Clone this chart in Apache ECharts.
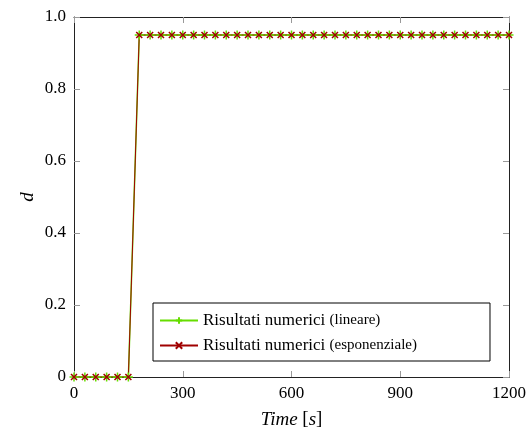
<!DOCTYPE html>
<html>
<head>
<meta charset="utf-8">
<script src="https://cdn.jsdelivr.net/npm/echarts@6/dist/echarts.min.js"></script>
<style>
  html, body { margin: 0; padding: 0; background: #fff; }
  #chart { width: 531px; height: 435px; }
</style>
</head>
<body>
<div id="chart"></div>
<script>
  // tempi (s)
  var timeSec = [0, 30, 60, 90, 120, 150, 180, 210, 240, 270, 300, 330, 360, 390, 420, 450,
    480, 510, 540, 570, 600, 630, 660, 690, 720, 750, 780, 810, 840, 870, 900, 930, 960,
    990, 1020, 1050, 1080, 1110, 1140, 1170, 1200];
  // risultati numerici (lineare)
  var dLineare = [0, 0, 0, 0, 0, 0, 0.95, 0.95, 0.95, 0.95, 0.95, 0.95, 0.95, 0.95, 0.95, 0.95,
    0.95, 0.95, 0.95, 0.95, 0.95, 0.95, 0.95, 0.95, 0.95, 0.95, 0.95, 0.95, 0.95, 0.95, 0.95,
    0.95, 0.95, 0.95, 0.95, 0.95, 0.95, 0.95, 0.95, 0.95, 0.95];
  // risultati numerici (esponenziale)
  var dEsponenziale = [0, 0, 0, 0, 0, 0, 0.95, 0.95, 0.95, 0.95, 0.95, 0.95, 0.95, 0.95, 0.95, 0.95,
    0.95, 0.95, 0.95, 0.95, 0.95, 0.95, 0.95, 0.95, 0.95, 0.95, 0.95, 0.95, 0.95, 0.95, 0.95,
    0.95, 0.95, 0.95, 0.95, 0.95, 0.95, 0.95, 0.95, 0.95, 0.95];
  var nomi = ['Risultati numerici (lineare)', 'Risultati numerici (esponenziale)'];

  var serif = '"Liberation Serif", "DejaVu Serif", serif';
  var plus = 'path://M5,0L5,10M0,5L10,5';
  var cross = 'path://M0,0L10,10M10,0L0,10';

  function pairs(xs, ys) {
    return xs.map(function (x, i) { return [x, ys[i]]; });
  }
  function ticks() {
    return { show: true, inside: true, length: 6, lineStyle: { color: '#999', width: 1 } };
  }
  function frameLine() {
    return { show: true, onZero: false, lineStyle: { color: '#222', width: 1 } };
  }

  var chart = echarts.init(document.getElementById('chart'));
  chart.setOption({
    animation: false,
    grid: { left: 74, right: 22, top: 17, bottom: 58 },
    legend: {
      data: nomi,
      orient: 'vertical',
      left: 153, top: 303,
      padding: [9, 73, 7, 6],
      itemGap: 8,
      itemWidth: 38, itemHeight: 8,
      backgroundColor: '#fff',
      borderColor: '#000', borderWidth: 1, borderRadius: 0,
      textStyle: {
        fontFamily: serif, fontSize: 17, color: '#000',
        rich: {
          a: { fontFamily: serif, fontSize: 17, color: '#000' },
          b: { fontFamily: serif, fontSize: 15, color: '#000' }
        }
      },
      formatter: function (name) {
        var i = name.indexOf('(');
        return '{a|' + name.slice(0, i) + '}{b|' + name.slice(i) + '}';
      }
    },
    xAxis: [{
      type: 'value', position: 'bottom', min: 0, max: 1200, interval: 300,
      name: '{i|Time} [{i|s}]', nameLocation: 'middle', nameGap: 33,
      nameTextStyle: {
        fontFamily: serif, fontSize: 19, color: '#000',
        rich: { i: { fontFamily: serif, fontSize: 19, fontStyle: 'italic', color: '#000' } }
      },
      axisLine: frameLine(),
      axisTick: ticks(),
      axisLabel: {
        fontFamily: serif, fontSize: 17, color: '#000', margin: 8,
        formatter: function (v) { return String(v); }
      },
      splitLine: { show: false }
    }, {
      type: 'value', position: 'top', min: 0, max: 1200, interval: 300,
      axisLine: frameLine(), axisTick: ticks(),
      axisLabel: { show: false }, splitLine: { show: false }
    }],
    yAxis: [{
      type: 'value', position: 'left', min: 0, max: 1, interval: 0.2,
      name: 'd', nameLocation: 'middle', nameGap: 37, nameMoveOverlap: false,
      nameTextStyle: { fontFamily: serif, fontSize: 19, fontStyle: 'italic', color: '#000' },
      axisLine: frameLine(),
      axisTick: ticks(),
      axisLabel: {
        fontFamily: serif, fontSize: 17, color: '#000', margin: 8,
        formatter: function (v) { return v === 0 ? '0' : v.toFixed(1); }
      },
      splitLine: { show: false }
    }, {
      type: 'value', position: 'right', min: 0, max: 1, interval: 0.2,
      axisLine: frameLine(), axisTick: ticks(),
      axisLabel: { show: false }, splitLine: { show: false }
    }],
    series: [{
      name: nomi[0],
      type: 'line',
      data: pairs(timeSec, dLineare),
      symbol: plus, symbolSize: 9, showSymbol: true,
      itemStyle: { color: 'transparent', borderColor: '#66dd00', borderWidth: 1.5 },
      lineStyle: { color: '#66dd00', width: 1.5 }
    }, {
      name: nomi[1],
      type: 'line',
      data: pairs(timeSec, dEsponenziale),
      symbol: cross, symbolSize: 6, showSymbol: true,
      itemStyle: { color: 'transparent', borderColor: '#a00000', borderWidth: 1.5 },
      lineStyle: { color: '#a00000', width: 1 }
    }]
  });
</script>
</body>
</html>
